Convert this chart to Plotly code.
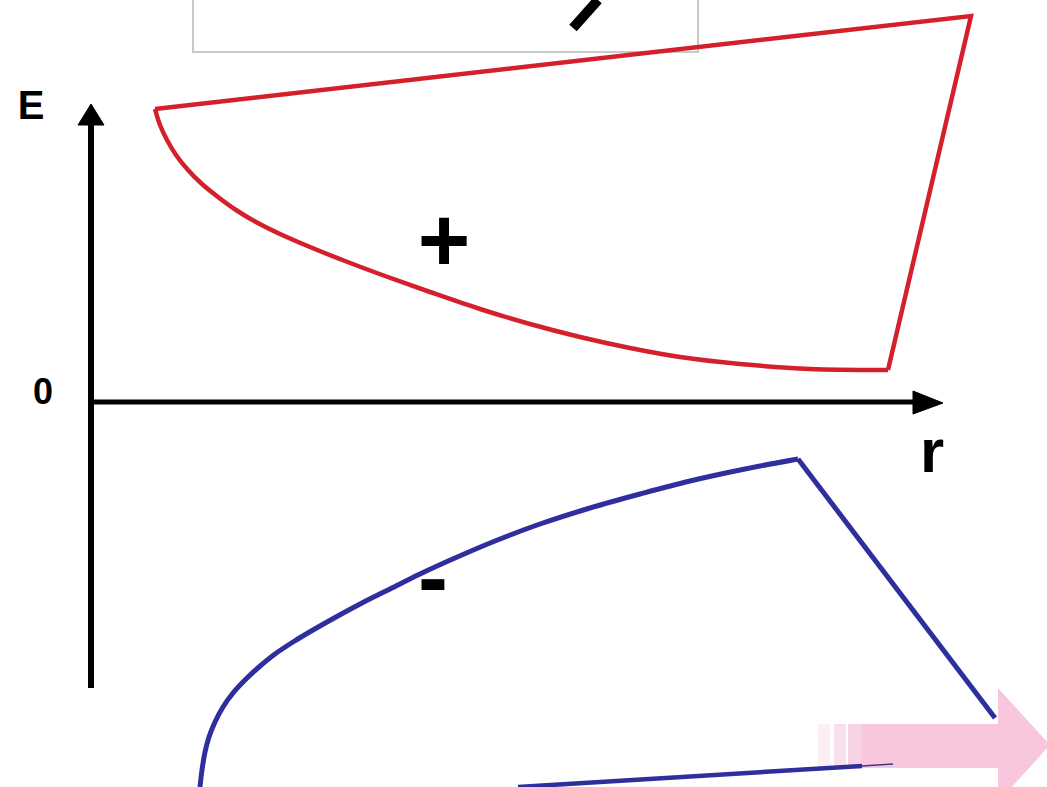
import plotly.graph_objects as go

W, H = 1047, 787

# Positive (red) region outline: top edge, right edge, then curved lower edge
red_x = [155, 971, 888, 810, 740, 680, 630, 580, 530, 480, 430, 385, 345, 310, 280, 256, 236, 218, 202, 188, 176, 167, 160, 155]
red_y = [109, 16, 370, 369, 364, 357, 348, 337, 324, 309, 292, 276, 261, 247, 234, 222, 210, 197, 184, 170, 155, 140, 125, 109]

# Negative (blue) region: curved upper edge, then right edge going down
blue_x = [200, 202, 205, 209, 215, 223, 233, 245, 259, 275, 293, 313, 336, 362, 390, 420, 455, 495, 540, 590, 640, 690, 745, 798, 995]
blue_y = [787, 770, 752, 737, 722, 707, 693, 680, 667, 654, 642, 630, 617, 603, 589, 574, 558, 541, 524, 508, 494, 481, 469, 459, 718]
blue_bottom_x = [518, 862]
blue_bottom_y = [787, 766]
blue_thin_x = [862, 893]
blue_thin_y = [766, 764]

# Axes of the diagram
e_axis_x = [91, 91]
e_axis_y = [688, 118]
r_axis_x = [88, 925]
r_axis_y = [402, 402]
e_head_x = [78, 91, 104, 78]
e_head_y = [125, 104, 125, 125]
r_head_x = [913, 943, 913, 913]
r_head_y = [391, 403, 414, 391]

# Box at top (partially visible) and italic glyph stroke
box_x = [193, 193, 698, 698]
box_y = [0, 52, 52, 0]
glyph_x = [598, 573]
glyph_y = [0, 28]

# Pink arrow
arrow_body_x = [862, 1000, 1000, 862, 862]
arrow_body_y = [724, 724, 768, 768, 724]
arrow_head_x = [998, 1050, 998, 998]
arrow_head_y = [688, 745, 802, 688]
fade_x0 = [818, 834, 848]
fade_x1 = [830, 846, 862]
fade_colors = ["#fcf0f6", "#f8dfeb", "#f6d3e4"]

labels = ["E", "0", "r", "+", "-"]
label_x = [31, 43, 932, 444, 433]
label_y = [109, 395, 456, 248, 585]
label_size = [40, 36, 62, 90, 90]

fig = go.Figure()

def add_line(x, y, color, width, fill=None, shape="linear"):
    fig.add_trace(go.Scatter(
        x=x, y=y, mode="lines",
        line=dict(color=color, width=width, shape=shape),
        fill=fill, fillcolor=color if fill else None,
        hoverinfo="skip", showlegend=False,
    ))

# pink arrow (behind)
for a, b, c in zip(fade_x0, fade_x1, fade_colors):
    add_line([a, b, b, a, a], [724, 724, 768, 768, 724], c, 0, fill="toself")
add_line(arrow_body_x, arrow_body_y, "#f8c6dd", 0, fill="toself")
add_line(arrow_head_x, arrow_head_y, "#f8c6dd", 0, fill="toself")

# box
add_line(box_x, box_y, "#c9c9c9", 2)
add_line(glyph_x, glyph_y, "#000000", 10)

# axes
add_line(e_axis_x, e_axis_y, "#000000", 6)
add_line(r_axis_x, r_axis_y, "#000000", 5)
add_line(e_head_x, e_head_y, "#000000", 1, fill="toself")
add_line(r_head_x, r_head_y, "#000000", 1, fill="toself")

# red region
add_line(red_x[:3], red_y[:3], "#d3202b", 4.5)
add_line(red_x[2:], red_y[2:], "#d3202b", 4.5, shape="spline")

# blue region
add_line(blue_x[:-1], blue_y[:-1], "#2e2e9c", 5, shape="spline")
add_line(blue_x[-2:], blue_y[-2:], "#2e2e9c", 5)
add_line(blue_bottom_x, blue_bottom_y, "#2e2e9c", 4.5)
add_line(blue_thin_x, blue_thin_y, "#3a3a8c", 1.5)

# labels
fig.add_trace(go.Scatter(
    x=label_x, y=label_y, mode="text", text=labels,
    textfont=dict(family="Liberation Sans", size=label_size, color="#000000", weight="bold"),
    textposition="middle center", hoverinfo="skip", showlegend=False,
))

fig.update_layout(
    width=W, height=H,
    margin=dict(l=0, r=0, t=0, b=0),
    paper_bgcolor="white", plot_bgcolor="white",
    xaxis=dict(range=[0, W], visible=False, fixedrange=True),
    yaxis=dict(range=[H, 0], visible=False, fixedrange=True),
)

fig.write_html("out.html", config={"displayModeBar": False},
               post_script="document.body.style.margin='0px';document.body.style.overflow='hidden';")
